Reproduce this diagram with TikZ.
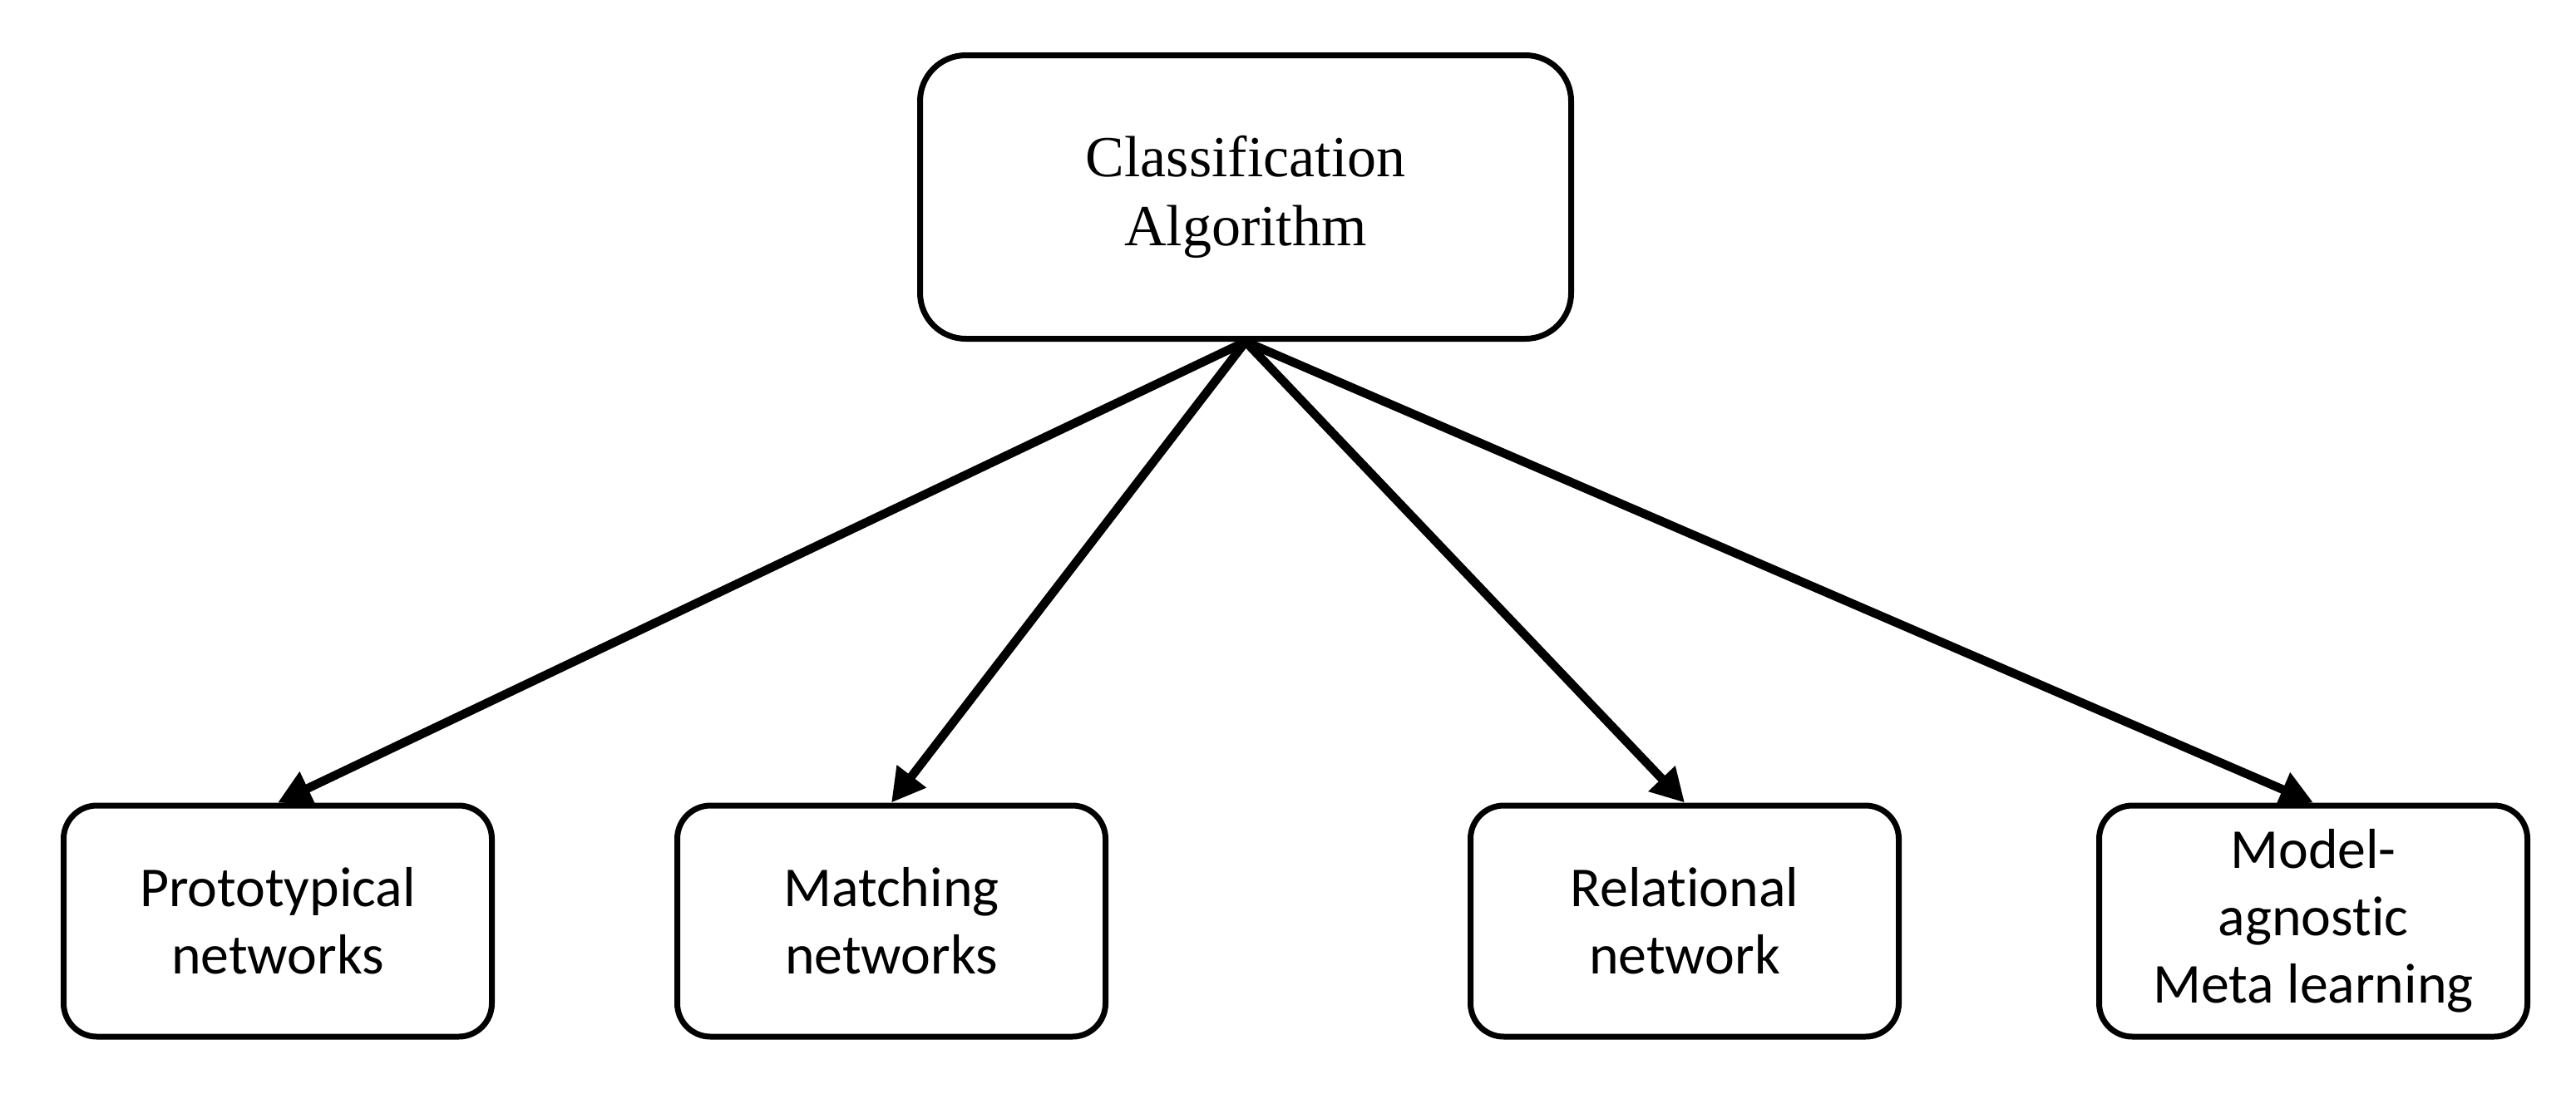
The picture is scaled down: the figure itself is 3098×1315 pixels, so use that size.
\documentclass[tikz,border=0pt]{standalone}
\usepackage{fontspec}
\setmainfont[Ligatures=NoCommon]{Liberation Serif}
\newfontfamily\calib[Ligatures=NoCommon]{Carlito}
\usetikzlibrary{arrows.meta}
\begin{document}
\begin{tikzpicture}[x=0.1mm,y=-0.1mm,
 topbox/.style={draw, line width=0.7mm, rounded corners=5.5mm, minimum width=78.3mm, minimum height=34.1mm, align=center, font=\fontsize{19.9}{23.6}\selectfont, inner sep=0pt},
 leaf/.style={draw, line width=0.7mm, rounded corners=4mm, minimum width=51.5mm, minimum height=27.8mm, align=center, font=\calib\fontsize{19.3}{23}\selectfont, inner sep=0pt},
 conn/.style={line width=1.05mm, -{Triangle[length=4mm,width=4.2mm]}}]
\useasboundingbox (0,0) rectangle (3098,1315);
\node[topbox] (top) at (1498,237) {Classification\\Algorithm};
\node[leaf] (a) at (334,1108) {Prototypical\\networks};
\node[leaf] (b) at (1072,1108) {Matching\\networks};
\node[leaf] (c) at (2026,1108) {Relational\\network};
\node[leaf] (d) at (2782,1108) {Model-\\agnostic\\Meta learning};
\draw[conn] (top.south) -- (a.north);
\draw[conn] (top.south) -- (b.north);
\draw[conn] (top.south) -- (c.north);
\draw[conn] (top.south) -- (d.north);
\end{tikzpicture}
\end{document}
